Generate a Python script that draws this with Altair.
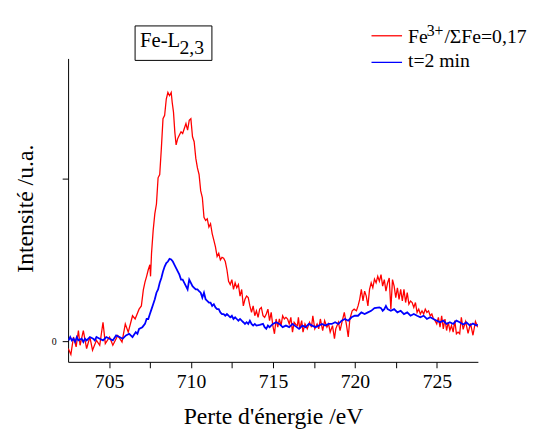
import altair as alt
import pandas as pd

# Red spectrum: Fe3+/ΣFe = 0,17
red_energy = [702.51, 702.67, 702.83, 702.99, 703.13, 703.23, 703.43, 703.63, 703.83, 703.99,
              704.23, 704.43, 704.63, 704.77, 705.03, 705.23, 705.53, 705.79, 705.99, 706.17,
              706.43, 706.59, 706.83, 706.97, 707.09, 707.19, 707.29, 707.39, 707.49, 707.53,
              707.59, 707.69, 707.79, 707.89, 707.99, 708.09, 708.19, 708.29, 708.39, 708.49,
              708.59, 708.69, 708.79, 708.85, 708.93, 709.01, 709.09, 709.19, 709.29, 709.39,
              709.49, 709.59, 709.69, 709.79, 709.89, 709.99, 710.09, 710.19, 710.29, 710.39,
              710.49, 710.59, 710.69, 710.79, 710.89, 710.99, 711.09, 711.19, 711.29, 711.39,
              711.49, 711.59, 711.69, 711.79, 711.89, 711.99, 712.09, 712.19, 712.29, 712.39,
              712.49, 712.59, 712.69, 712.79, 712.89, 712.99, 713.09, 713.19, 713.29, 713.39,
              713.49, 713.59, 713.69, 713.79, 713.89, 713.99, 714.09, 714.19, 714.29, 714.39,
              714.49, 714.59, 714.69, 714.79, 714.89, 714.99, 715.09, 715.19, 715.29, 715.39,
              715.49, 715.59, 715.69, 715.79, 715.89, 715.99, 716.09, 716.19, 716.29, 716.39,
              716.49, 716.55, 716.63, 716.75, 716.83, 716.95, 717.09, 717.23, 717.35, 717.43,
              717.55, 717.69, 717.79, 717.89, 718.03, 718.15, 718.29, 718.39, 718.49, 718.63,
              718.75, 718.83, 718.99, 719.09, 719.23, 719.35, 719.49, 719.59, 719.69, 719.83,
              719.95, 720.09, 720.19, 720.29, 720.39, 720.49, 720.59, 720.69, 720.79, 720.89,
              720.99, 721.09, 721.19, 721.29, 721.39, 721.49, 721.59, 721.69, 721.79, 721.89,
              721.99, 722.09, 722.19, 722.29, 722.39, 722.49, 722.59, 722.69, 722.79, 722.89,
              722.99, 723.09, 723.19, 723.29, 723.39, 723.49, 723.59, 723.69, 723.79, 723.89,
              723.99, 724.09, 724.19, 724.29, 724.39, 724.49, 724.59, 724.69, 724.79, 724.89,
              724.99, 725.09, 725.19, 725.29, 725.39, 725.49, 725.59, 725.69, 725.79, 725.89,
              725.99, 726.09, 726.19, 726.29, 726.39, 726.49, 726.6, 726.75, 726.9, 727.05,
              727.2, 727.35, 727.5]
red_intensity = [-7.5, -13.5, 4.2, -5.8, 10.8, -4.2, 10.8, -7.5, 4.2, -9.2,
                 0.8, -4.2, 19.2, -2.5, 4.2, -4.2, 5.8, -0.8, 17.5, 9.2,
                 25.8, 22.5, 32.5, 35.8, 52, 60, 65.8, 72.5, 77.5, 65.8,
                 89.2, 112.5, 129.2, 139.2, 165.8, 169.2, 195.8, 225.8, 229.2, 245.8,
                 252.5, 249.2, 252.5, 242.5, 232.5, 212.5, 199.2, 205.8, 209.2, 212.5,
                 210.8, 215.8, 220.8, 214.2, 224.2, 225.8, 207.5, 202.5, 185.8, 175.8,
                 169.2, 152.5, 145.8, 125.8, 122.5, 124.2, 115.8, 119.2, 109.2, 102.5,
                 95.8, 86, 89.2, 82.5, 85, 84.2, 80.8, 72.5, 60.8, 57.5,
                 62.5, 52.5, 59.2, 54.2, 57.5, 45.8, 52.5, 35.8, 42.5, 45.8,
                 44.2, 35.8, 29.2, 35.8, 25.8, 30.8, 24.2, 32.5, 34.2, 25.8,
                 24.2, 27.5, 32.5, 20.8, 29.2, 15.8, 7.5, 22.5, 14.2, 22.5,
                 15.8, 25.8, 22.5, 24.2, 22.5, 17.5, 24.2, 9.2, 19.2, 17,
                 15.8, 24.2, 12.5, 20.8, 9.2, 17.5, 12.5, 19.2, 14.2, 25.8,
                 12.5, 17.5, 12.5, 22.5, 10.8, 20.8, 14.2, 17.5, 9.2, 15.8,
                 2.5, 12.5, 19.2, 10.8, 20.8, 29.2, 15.8, 4.2, 22.5, 30.8,
                 32.5, 30.8, 35.8, 42.5, 52.5, 40.8, 50.8, 45.8, 35.8, 52.5,
                 59.2, 54.2, 63, 59.2, 65.8, 60.8, 67.5, 55.8, 62.5, 50.8,
                 59.2, 64.2, 32.5, 62.5, 55.8, 44.2, 54.2, 42.5, 52.5, 40.8,
                 52.5, 39.2, 49.2, 37.5, 40.8, 39.2, 34.2, 39.2, 29.2, 32.5,
                 27.5, 30.8, 27.5, 32.5, 29.2, 30.8, 25.8, 27.5, 22.5, 20.8,
                 17.5, 24.2, 14.2, 25.8, 12.5, 22.5, 10.8, 19.2, 10.8, 15.8,
                 9.2, 20.8, 7.5, 9.2, 7.5, 24.2, 12, 20, 8, 18,
                 6, 20, 14]

# Blue spectrum: t = 2 min
blue_energy = [702.53, 702.63, 702.73, 702.83, 702.93, 703.03, 703.13, 703.33, 703.43, 703.53,
               703.63, 703.83, 704.03, 704.13, 704.23, 704.43, 704.63, 704.83, 705.03, 705.23,
               705.43, 705.63, 705.83, 706.03, 706.23, 706.43, 706.63, 706.73, 706.83, 707.03,
               707.19, 707.29, 707.39, 707.49, 707.59, 707.69, 707.79, 707.89, 707.99, 708.09,
               708.19, 708.29, 708.39, 708.49, 708.59, 708.69, 708.79, 708.89, 708.99, 709.09,
               709.19, 709.29, 709.39, 709.49, 709.59, 709.69, 709.79, 709.89, 709.99, 710.09,
               710.19, 710.29, 710.39, 710.49, 710.59, 710.69, 710.79, 710.89, 710.99, 711.09,
               711.19, 711.29, 711.39, 711.49, 711.59, 711.69, 711.79, 711.89, 711.99, 712.09,
               712.19, 712.29, 712.39, 712.49, 712.59, 712.69, 712.79, 712.89, 712.99, 713.09,
               713.19, 713.29, 713.39, 713.49, 713.59, 713.69, 713.79, 713.89, 713.99, 714.19,
               714.39, 714.49, 714.59, 714.69, 714.79, 714.99, 715.19, 715.39, 715.59, 715.79,
               715.99, 716.19, 716.39, 716.59, 716.79, 716.99, 717.19, 717.39, 717.59, 717.79,
               717.99, 718.19, 718.39, 718.59, 718.79, 718.99, 719.19, 719.39, 719.59, 719.79,
               719.99, 720.19, 720.39, 720.59, 720.79, 720.99, 721.19, 721.39, 721.49, 721.59,
               721.69, 721.79, 721.89, 721.99, 722.19, 722.39, 722.59, 722.79, 722.99, 723.19,
               723.39, 723.59, 723.79, 723.99, 724.19, 724.39, 724.59, 724.79, 724.99, 725.19,
               725.39, 725.59, 725.79, 725.99, 726.19, 726.39, 726.6, 726.8, 727.0, 727.2,
               727.4, 727.5]
blue_intensity = [0.8, 4.2, 0.8, 2.5, -0.8, 4.2, 0.8, 2.5, -0.8, 2.5,
                  0.8, 4.2, 2.5, 0.8, 4.2, 2.5, 0.8, 4.2, 2.5, 0.8,
                  5.8, 4.2, 2.5, 5.8, 7.5, 4.2, 9.2, 7.5, 12.5, 14.2,
                  17.5, 22.5, 22.5, 27.5, 32.5, 37.5, 42.5, 49.2, 52.5, 59.2,
                  64.2, 70.8, 75.8, 79.2, 80.8, 83.5, 83, 80.8, 77.5, 74.2,
                  70.8, 67.5, 62.5, 62.5, 59.2, 55.8, 52.5, 62.5, 59.2, 55.8,
                  54.2, 52.5, 52.5, 50.8, 49.2, 44.2, 49.2, 42.5, 40.8, 39.2,
                  39.2, 35.8, 37.5, 34.2, 32.5, 32.5, 29.2, 27.5, 27.5, 25.8,
                  27.5, 25.8, 24.2, 25.8, 22.5, 24.2, 22.5, 20.8, 22.5, 20.8,
                  19.2, 17.5, 19.2, 17.5, 20.8, 17.5, 15.8, 17.5, 15.8, 16.5,
                  17.5, 14.2, 12.5, 15.8, 14.2, 17.5, 19.2, 17.5, 14.2, 15.8,
                  14.2, 17.5, 15, 12.5, 15.8, 14.2, 17.5, 15.8, 14.2, 15.8,
                  17.5, 15.8, 17.5, 17.5, 19.2, 17.5, 20.8, 22.5, 20.8, 24.2,
                  25.8, 25.8, 29.2, 27.5, 29.2, 30.8, 33.5, 34, 34.2, 33.5,
                  30.8, 32.5, 35.8, 32.5, 30.8, 32.5, 29.2, 30.8, 27.5, 29.2,
                  25.8, 27.5, 25.8, 24.2, 25.8, 22.5, 24.2, 22.5, 20.8, 19.2,
                  20.8, 17.5, 19.2, 17.5, 20.8, 19.2, 17, 19, 16, 18,
                  16, 17]

x_ticks = [705, 707.5, 710, 712.5, 715, 717.5, 720, 722.5, 725]
y_ticks = [0, 165]
legend_labels = ["t=2 min"]
box_label = ["Fe-L", "2,3"]

FONT = "'Liberation Serif', 'Times New Roman', serif"

red_df = pd.DataFrame({"E": red_energy, "I": red_intensity})
blue_df = pd.DataFrame({"E": blue_energy, "I": blue_intensity})

common_axis = dict(
    grid=False, domainColor="black", domainWidth=1,
    tickColor="black", tickSize=6, tickWidth=1,
    labelFont=FONT, labelColor="black",
    titleFont=FONT, titleColor="black", titleFontWeight="normal",
)

x_enc = alt.X("E:Q",
              scale=alt.Scale(domain=[702.5, 727.5], nice=False, zero=False),
              axis=alt.Axis(values=x_ticks,
                            labelExpr="datum.value % 5 === 0 ? datum.label : ''",
                            title="Perte d'énergie /eV",
                            titleX=208, titleY=62.7, titleBaseline="alphabetic",
                            labelFontSize=20, labelPadding=4, labelFlush=False,
                            titleFontSize=24, **common_axis))
y_enc = alt.Y("I:Q",
              scale=alt.Scale(domain=[-21, 287], nice=False, zero=False),
              axis=alt.Axis(values=y_ticks,
                            labelExpr="datum.value === 0 ? '0' : ''",
                            title="Intensité /u.a.",
                            titleX=-36, titleY=152, titleBaseline="alphabetic",
                            labelFontSize=10, labelPadding=6,
                            titleFontSize=24, **common_axis))

red_line = alt.Chart(red_df).mark_line(color="#ff0000", strokeWidth=1.3, clip=True).encode(
    x=x_enc, y=y_enc)
blue_line = alt.Chart(blue_df).mark_line(color="#0000ff", strokeWidth=1.8, clip=True).encode(
    x="E:Q", y="I:Q")

one = alt.Data(values=[{"k": 0}])

box = alt.Chart(one).mark_rect(fill="white", stroke="black", strokeWidth=1).encode(
    x=alt.value(68), x2=alt.value(146), y=alt.value(-33), y2=alt.value(2))
box_t1 = alt.Chart(one).mark_text(align="left", baseline="alphabetic", font=FONT,
                                  fontSize=21, color="black").encode(
    x=alt.value(73), y=alt.value(-11.5), text=alt.value(box_label[0]))
box_t2 = alt.Chart(one).mark_text(align="left", baseline="alphabetic", font=FONT,
                                  fontSize=20, color="black").encode(
    x=alt.value(113), y=alt.value(-4.5), text=alt.value(box_label[1]))

leg_r = alt.Chart(one).mark_rule(color="#ff0000", strokeWidth=1.3).encode(
    x=alt.value(308), x2=alt.value(339), y=alt.value(-23))
leg_b = alt.Chart(one).mark_rule(color="#0000ff", strokeWidth=1.3).encode(
    x=alt.value(308), x2=alt.value(339), y=alt.value(4))
leg_t1 = alt.Chart(one).mark_text(align="left", baseline="alphabetic", font=FONT,
                                  fontSize=20, color="black").encode(
    x=alt.value(345), y=alt.value(-16), text=alt.value("Fe"))
leg_t2 = alt.Chart(one).mark_text(align="left", baseline="alphabetic", font=FONT,
                                  fontSize=16, color="black").encode(
    x=alt.value(364), y=alt.value(-23), text=alt.value("3+"))
leg_t3 = alt.Chart(one).mark_text(align="left", baseline="alphabetic", font=FONT,
                                  fontSize=20, color="black").encode(
    x=alt.value(382), y=alt.value(-16), text=alt.value("/ΣFe=0,17"))
leg_t4 = alt.Chart(one).mark_text(align="left", baseline="alphabetic", font=FONT,
                                  fontSize=20, color="black").encode(
    x=alt.value(345), y=alt.value(9), text=alt.value(legend_labels[0]))

chart = alt.layer(
    red_line, blue_line, box, box_t1, box_t2, leg_r, leg_b, leg_t1, leg_t2, leg_t3, leg_t4
).properties(
    width=416, height=308,
    autosize=alt.AutoSizeParams(type="none"),
    padding={"left": 61, "top": 48, "right": 60, "bottom": 67},
    background="white",
).configure_view(stroke=None)

chart.save("out.html", embed_options={"renderer": "svg", "actions": False})
